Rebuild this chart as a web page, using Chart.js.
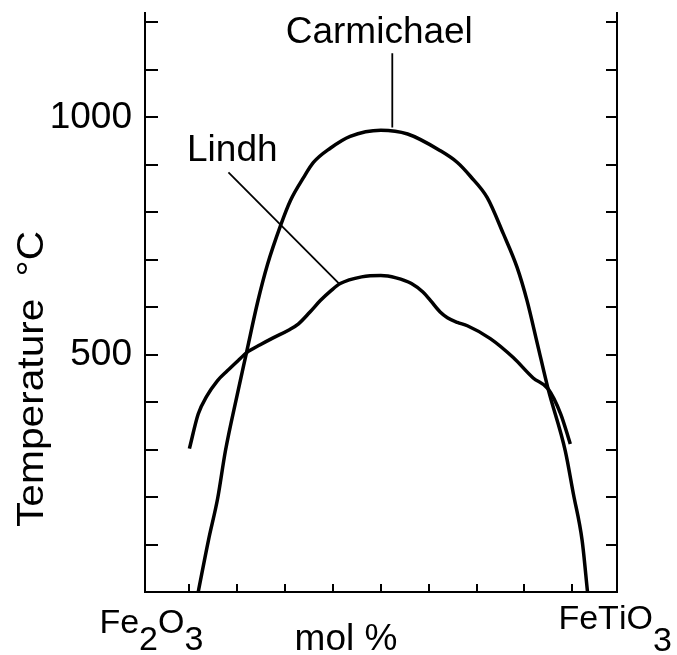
<!DOCTYPE html>
<html>
<head>
<meta charset="utf-8">
<script src="https://cdn.jsdelivr.net/npm/chart.js@4.4.1/dist/chart.umd.min.js"></script>
<style>
html,body{margin:0;padding:0;background:#fff;}
canvas{display:block;}
</style>
</head>
<body>
<canvas id="c" width="677" height="655"></canvas>
<script>
// ---- data (mol % FeTiO3 vs temperature °C) ----
const carmichaelMol  = [2.3, 5.0, 7.4, 9.4, 12.5, 14.9, 17.8, 20.4, 23.8, 26.4, 29.8, 32.4, 36.8, 42, 50, 57, 65.5, 70, 73.4, 77.8, 82, 85.6, 88.2, 90.9, 93.7, 98.2, 100.3, 102.6, 104];
const carmichaelTemp = [0, 110, 198, 297, 416, 504, 610, 690, 772, 825, 873, 905, 935, 960, 973, 965, 930, 905, 876, 831, 755, 684, 614, 523, 428, 297, 207, 108, 0];
const lindhMol  = [0, 2.3, 4.5, 7.3, 9.9, 13.3, 14.9, 18.5, 22, 26, 28.5, 31.5, 34.2, 37, 39.4, 45, 50, 54, 58, 61, 63, 65.5, 67.4, 70, 72.6, 78.6, 84.6, 89.8, 93.7, 97, 99.5];
const lindhTemp = [302, 375, 412, 445, 466, 492, 504, 521, 536, 552, 565, 590, 614, 635, 650, 664, 667, 662, 650, 632, 614, 590, 578, 568, 561, 534, 494, 451, 428, 375, 312];
const lindhLeaderMol  = [10.2, 39.1];
const lindhLeaderTemp = [884, 650];
const carmLeaderMol  = [53, 53];
const carmLeaderTemp = [1135, 979];
const yTickValues  = [100, 200, 300, 400, 500, 600, 700, 800, 900, 1000, 1100, 1200];
const yLabelValues = [500, 1000];
const xTickValues  = [0, 12.5, 25, 37.5, 50, 62.5, 75, 87.5, 100];
const xEndLabels   = ['Fe2O3', 'FeTiO3'];
const xAxisTitle   = 'mol %';
const yAxisTitle   = ['Temperature', '°C'];
const seriesNames  = ['Carmichael', 'Lindh'];

const toPts = (xs, ys) => xs.map((v, i) => ({x: v, y: ys[i]}));
const FONT = '"Liberation Sans", Arial, sans-serif';

const decor = {
  id: 'decor',
  afterDatasetsDraw(chart) {
    const {ctx, chartArea: a, scales: {x, y}} = chart;
    ctx.save();
    ctx.strokeStyle = '#000';
    ctx.fillStyle = '#000';
    ctx.lineWidth = 2;
    // inside tick marks
    yTickValues.forEach(v => {
      const py = Math.round(y.getPixelForValue(v));
      ctx.beginPath(); ctx.moveTo(a.left, py); ctx.lineTo(a.left + 13, py); ctx.stroke();
      ctx.beginPath(); ctx.moveTo(a.right, py); ctx.lineTo(a.right - 11, py); ctx.stroke();
    });
    xTickValues.forEach(v => {
      const px = Math.round(x.getPixelForValue(v));
      ctx.beginPath(); ctx.moveTo(px, a.bottom); ctx.lineTo(px, a.bottom - 8); ctx.stroke();
    });
    // series labels
    ctx.font = '37px ' + FONT;
    ctx.textAlign = 'center';
    ctx.textBaseline = 'alphabetic';
    ctx.fillText(seriesNames[0], x.getPixelForValue(49.6), 43);
    ctx.fillText(seriesNames[1], x.getPixelForValue(11.2), 161);
    // x end labels with lowered digits
    const drawChem = (str, startX, base, sub) => {
      ctx.textAlign = 'left';
      let cx = startX;
      for (const ch of str) {
        const isDigit = /[0-9]/.test(ch);
        ctx.fillText(ch, cx, isDigit ? base + sub : base);
        cx += ctx.measureText(ch).width;
      }
    };
    ctx.font = '34px ' + FONT;
    drawChem(xEndLabels[0], x.getPixelForValue(-23.5), 633, 17);
    drawChem(xEndLabels[1], x.getPixelForValue(96.4), 629, 22);
    ctx.font = '37px ' + FONT;
    ctx.textAlign = 'center';
    ctx.fillText(xAxisTitle, 346, 650);
    // y axis title
    ctx.save();
    ctx.translate(43, 527);
    ctx.rotate(-Math.PI / 2);
    ctx.scale(1.1, 1);
    ctx.font = '37px ' + FONT;
    ctx.textAlign = 'left';
    ctx.fillText(yAxisTitle[0], 0, 0);
    const w = ctx.measureText(yAxisTitle[0]).width;
    ctx.fillText(yAxisTitle[1], w + 20, 0);
    ctx.restore();
    ctx.restore();
  }
};

const lineDs = (data, w) => ({
  data, showLine: true, borderColor: '#000', borderWidth: w, pointRadius: 0,
  cubicInterpolationMode: 'monotone', fill: false
});

new Chart(document.getElementById('c'), {
  type: 'scatter',
  data: {
    datasets: [
      Object.assign(lineDs(toPts(carmichaelMol, carmichaelTemp), 3.5), {label: seriesNames[0]}),
      Object.assign(lineDs(toPts(lindhMol, lindhTemp), 3.5), {label: seriesNames[1]}),
      Object.assign(lineDs(toPts(lindhLeaderMol, lindhLeaderTemp), 1.8), {label: 'leader1', cubicInterpolationMode: 'default', tension: 0}),
      Object.assign(lineDs(toPts(carmLeaderMol, carmLeaderTemp), 1.8), {label: 'leader2', cubicInterpolationMode: 'default', tension: 0})
    ]
  },
  options: {
    responsive: false,
    animation: false,
    devicePixelRatio: 1,
    layout: {padding: {top: 13, left: 0, right: 0, bottom: 0}},
    plugins: {legend: {display: false}, tooltip: {enabled: false}},
    scales: {
      x: {
        type: 'linear', position: 'bottom', min: -11.6, max: 111.7,
        grid: {display: false, drawTicks: false},
        ticks: {display: false},
        border: {display: true, color: '#000', width: 2},
        afterFit(s) { s.height = 63; s.paddingLeft = 0; s.paddingRight = 0; }
      },
      y: {
        type: 'linear', position: 'left', min: 0, max: 1220,
        grid: {display: false, drawTicks: false},
        ticks: {
          stepSize: 100, autoSkip: false, padding: 13, color: '#000',
          font: {family: FONT, size: 37},
          callback: v => yLabelValues.includes(v) ? String(v) : ''
        },
        border: {display: true, color: '#000', width: 2},
        afterFit(s) { s.width = 145; s.paddingTop = 0; s.paddingBottom = 0; }
      },
      y2: {
        type: 'linear', position: 'right', min: 0, max: 1220,
        grid: {display: false, drawTicks: false},
        ticks: {display: false},
        border: {display: true, color: '#000', width: 2},
        afterFit(s) { s.width = 60; s.paddingTop = 0; s.paddingBottom = 0; }
      }
    }
  },
  plugins: [decor]
});
</script>
</body>
</html>
